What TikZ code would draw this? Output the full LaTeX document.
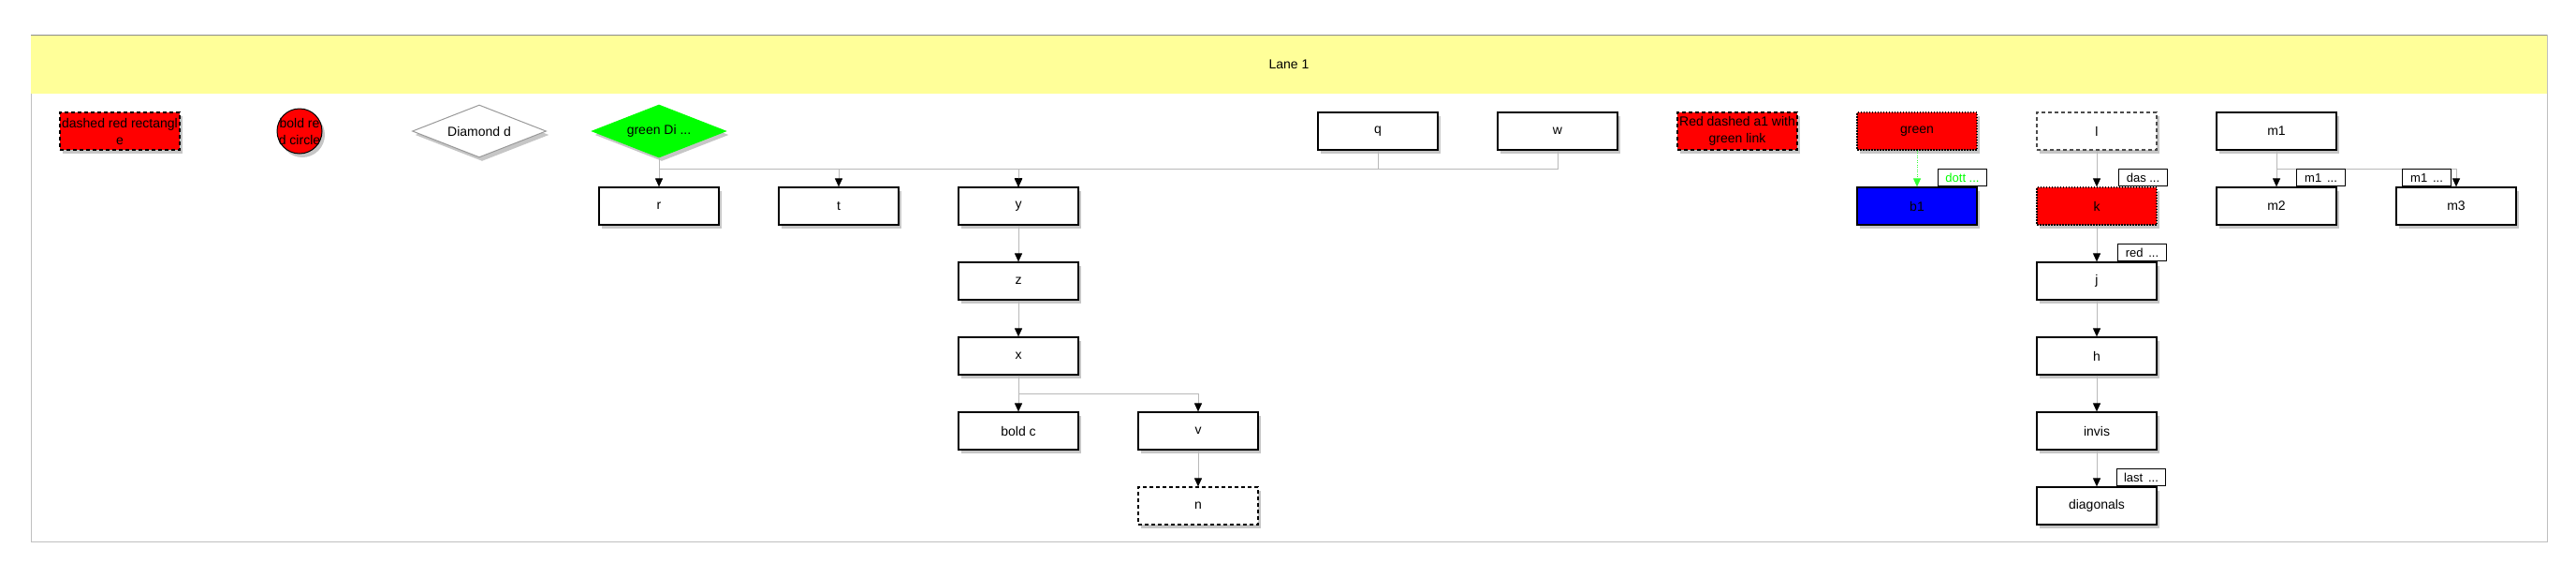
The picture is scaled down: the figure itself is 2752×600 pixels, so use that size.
\documentclass[tikz,border=0pt]{standalone}
\usepackage{fontspec}
\setmainfont{Liberation Sans}
\usetikzlibrary{shapes.geometric,shadows,arrows.meta}
\definecolor{laneyellow}{RGB}{255,255,153}
\definecolor{linegray}{RGB}{185,185,185}
\begin{document}
\begin{tikzpicture}[x=1pt,y=-1pt,>={Triangle[length=9pt,width=8pt,color=black]},
  font=\fontsize{14}{18}\selectfont,
  boxshadow/.style={drop shadow={shadow xshift=3pt,shadow yshift=-4pt,opacity=.45}},
  box/.style={boxshadow,draw,line width=1.2pt,fill=white,minimum width=128pt,minimum height=40pt,inner sep=0pt,align=center},
  dashbox/.style={box,dash pattern=on 4pt off 3pt},
  dotbox/.style={box,dash pattern=on 1.5pt off 1.5pt},
  dia/.style={boxshadow,diamond,aspect=2.55,draw=black!40,line width=1pt,fill=white,minimum width=143pt,minimum height=56pt,inner sep=0pt},
  flow/.style={draw=linegray,line width=1pt,->},
  tag/.style={draw,fill=white,line width=1pt,minimum width=52pt,minimum height=18pt,inner sep=1pt,anchor=south west,font=\fontsize{13}{13}\selectfont}]
\useasboundingbox (0,0) rectangle (2752,600);
\draw[black!25,line width=1pt] (33,37) rectangle (2721,578);
\fill[laneyellow] (33,37) rectangle (2721,100);
\draw[black!45,line width=1pt] (33,37) -- (2721,37);
\node (lane) at (1377,69) {Lane 1};
\node[dashbox,fill=red] (dr) at (128,140) {dashed red rectangl\\e};
\node[boxshadow,circle,draw,line width=1pt,fill=red,minimum size=48pt,inner sep=0pt] (bc) at (320,140) {};
\node[align=center] (bct) at (bc) {bold re\\d circle};
\node[dia] (dd) at (512,140) {Diamond d};
\node[dia,draw=green,fill=green] (gd) at (704,140) {green Di ...};
\node[box] (q) at (1472,140) {q};
\node[box] (w) at (1664,140) {w};
\node[dashbox,fill=red] (a1) at (1856,140) {Red dashed a1 with\\green link};
\node[dotbox,fill=red] (gn) at (2048,140) {green};
\node[dashbox,draw=black!70] (l) at (2240,140) {l};
\node[box] (m1) at (2432,140) {m1};
\node[box] (r) at (704,220) {r};
\node[box] (t) at (896,220) {t};
\node[box] (y) at (1088,220) {y};
\node[box,fill=blue] (b1) at (2048,220) {b1};
\node[dotbox,fill=red] (k) at (2240,220) {k};
\node[box] (m2) at (2432,220) {m2};
\node[box] (m3) at (2624,220) {m3};
\node[box] (z) at (1088,300) {z};
\node[box] (j) at (2240,300) {j};
\node[box] (x) at (1088,380) {x};
\node[box] (h) at (2240,380) {h};
\node[box] (c) at (1088,460) {bold c};
\node[box] (v) at (1280,460) {v};
\node[box] (invis) at (2240,460) {invis};
\node[dashbox] (n) at (1280,540) {n};
\node[box] (diag) at (2240,540) {diagonals};
\draw[flow] (gd.south) -- (r.north);
\draw[flow] (gd.south) -- ++(0,12) -| (t.north);
\draw[flow] (gd.south) -- ++(0,12) -| (y.north);
\draw[flow] (q.south) -- ++(0,20) -| (y.north);
\draw[flow] (w.south) -- ++(0,20) -| (y.north);
\draw[flow] (y) -- (z);
\draw[flow] (z) -- (x);
\draw[flow] (x) -- (c);
\draw[flow] (x.south) -- ++(0,20) -| (v.north);
\draw[flow] (v) -- (n);
\draw[draw=green!80!white,line width=1pt,dash pattern=on 1pt off 1.5pt,-{Triangle[length=9pt,width=8pt]}] (gn) -- (b1);
\draw[flow] (l) -- (k);
\draw[flow] (k) -- (j);
\draw[flow] (j) -- (h);
\draw[flow] (h) -- (invis);
\draw[flow] (invis) -- (diag);
\draw[flow] (m1) -- (m2);
\draw[flow] (m1.south) -- ++(0,20) -| (m3.north);
\node[tag,text=green] (dott) at ([xshift=22pt]b1.north) {dott ...};
\node[tag] (das) at ([xshift=23pt]k.north) {das ...};
\node[tag] (red) at ([xshift=22pt]j.north) {red \,...};
\node[tag] (last) at ([xshift=21pt]diag.north) {last \,...};
\node[tag] (m1a) at ([xshift=21pt]m2.north) {m1 \,...};
\node[tag,anchor=south east] (m1b) at ([xshift=-5pt]m3.north) {m1 \,...};
\end{tikzpicture}
\end{document}
